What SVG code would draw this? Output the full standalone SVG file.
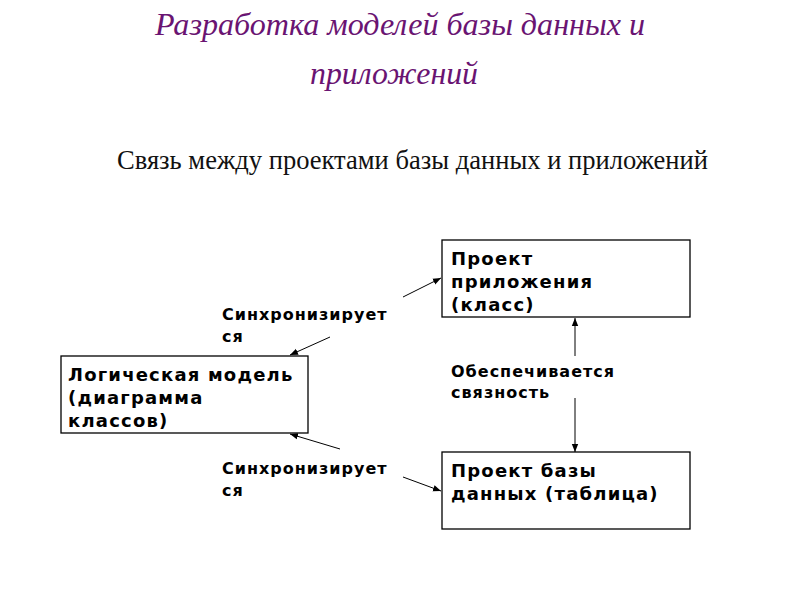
<svg xmlns="http://www.w3.org/2000/svg" width="800" height="600" viewBox="0 0 800 600">
<defs>
<style>
.title{font-family:"Liberation Serif",serif;font-style:italic;font-size:32px;fill:#6a1472}
.sub{font-family:"Liberation Serif",serif;font-size:28px;fill:#111}
.box{fill:#fff;stroke:#000;stroke-width:1.3}
.bt{font-family:"DejaVu Sans",sans-serif;font-weight:bold;font-size:18px;letter-spacing:1.2px;fill:#000}
.lt{font-family:"DejaVu Sans",sans-serif;font-weight:bold;font-size:16px;letter-spacing:1px;fill:#000}
.ln{stroke:#000;stroke-width:1;fill:none;marker-end:url(#ah)}
</style>
<marker id="ah" viewBox="0 0 10 10" refX="10" refY="5" markerWidth="8" markerHeight="8" markerUnits="userSpaceOnUse" orient="auto">
<path d="M0,1 L10,5 L0,9 Z" fill="#000"/>
</marker>
</defs>
<rect width="800" height="600" fill="#fff"/>
<g id="title">
<text class="title" x="400" y="35" text-anchor="middle" textLength="490" lengthAdjust="spacingAndGlyphs">Разработка моделей базы данных и</text>
<text class="title" x="394" y="84" text-anchor="middle" textLength="168" lengthAdjust="spacingAndGlyphs">приложений</text>
</g>
<g id="subtitle">
<text class="sub" x="117" y="169" textLength="591" lengthAdjust="spacingAndGlyphs">Связь между проектами базы данных и приложений</text>
</g>
<g id="connectors">
<line class="ln" x1="403" y1="297" x2="441" y2="278"/>
<line class="ln" x1="330" y1="337" x2="290" y2="355"/>
<line class="ln" x1="340" y1="449" x2="290" y2="434"/>
<line class="ln" x1="403" y1="477" x2="441" y2="491"/>
<line class="ln" x1="575" y1="356" x2="575" y2="318"/>
<line class="ln" x1="575" y1="398" x2="575" y2="452"/>
</g>
<g id="node-app">
<rect class="box" x="442" y="240" width="248" height="77"/>
<text class="bt" x="451" y="265">Проект</text>
<text class="bt" x="451" y="288">приложения</text>
<text class="bt" x="451" y="311">(класс)</text>
</g>
<g id="node-logic">
<rect class="box" x="61" y="356" width="247" height="77"/>
<text class="bt" x="68" y="381">Логическая модель</text>
<text class="bt" x="68" y="404">(диаграмма</text>
<text class="bt" x="68" y="427">классов)</text>
</g>
<g id="node-db">
<rect class="box" x="442" y="452" width="248" height="77"/>
<text class="bt" x="451" y="477">Проект базы</text>
<text class="bt" x="451" y="500">данных (таблица)</text>
</g>
<g id="label-sync-top">
<text class="lt" x="222" y="320">Синхронизирует</text>
<text class="lt" x="222" y="342">ся</text>
</g>
<g id="label-sync-bottom">
<text class="lt" x="222" y="474">Синхронизирует</text>
<text class="lt" x="222" y="496">ся</text>
</g>
<g id="label-link">
<text class="lt" x="451" y="377">Обеспечивается</text>
<text class="lt" x="451" y="398">связность</text>
</g>
</svg>
